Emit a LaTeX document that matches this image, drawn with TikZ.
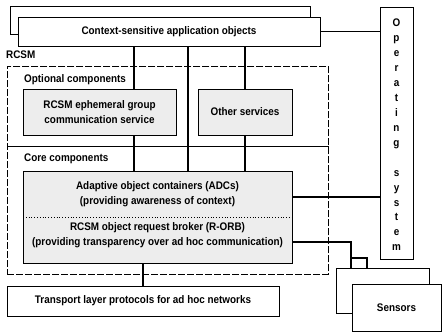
\documentclass[tikz,border=0pt]{standalone}
\usepackage{fontspec}
\setmainfont{Liberation Sans}[FakeStretch=0.9]
\begin{document}
\begin{tikzpicture}[x=1pt,y=-1pt,
  lbl/.style={font=\fontsize{11}{14.5}\selectfont\bfseries, inner sep=0pt, align=center},
  box/.style={draw, line width=0.9pt, fill=white, inner sep=0pt, outer sep=0pt, anchor=north west, lbl},
  shadebox/.style={box, fill=gray!14},
  region/.style={draw, line width=0.8pt, dash pattern=on 7pt off 2pt},
  wire/.style={line width=1.4pt}]
\useasboundingbox (0,0) rectangle (443,333);

% RCSM middleware region with its two compartments
\node[region, anchor=north west, minimum width=321pt, minimum height=208pt, inner sep=0pt] (rcsm) at (7,66) {};
\coordinate (ysep) at (0,146);
\draw[line width=0.8pt] (rcsm.west |- ysep) -- (rcsm.east |- ysep);
\node[lbl, anchor=west] (rcsmlbl) at (6,55) {RCSM};
\node[lbl, anchor=west] (optlbl) at (24,80) {Optional components};
\node[lbl, anchor=west] (corelbl) at (24,159) {Core components};

% application objects (stacked)
\node[box, minimum width=300pt, minimum height=28pt] (appB) at (10,6) {};
\node[box, minimum width=302pt, minimum height=29pt] (app) at (18,17) {Context-sensitive application objects};

% operating system column
\node[box, minimum width=33pt, minimum height=252pt] (os) at (380,7) {};
\node[font=\fontsize{11}{14.93}\selectfont\bfseries, inner sep=0pt, align=center] (ostext) at (396.5,135)
  {O\\p\\e\\r\\a\\t\\i\\n\\g\\[14.93pt]s\\y\\s\\t\\e\\m};

% optional services
\node[shadebox, minimum width=153pt, minimum height=46pt] (grp) at (23,89) {};
\node[lbl] (grptext) at (grp.center) {RCSM ephemeral group\\communication service};
\node[shadebox, minimum width=94pt, minimum height=46pt] (oth) at (198,89) {Other services};

% core components
\node[fill=gray!14, anchor=north west, minimum width=269pt, minimum height=46pt, inner sep=0pt, outer sep=0pt] (adc) at (23,171) {};
\node[fill=gray!14, anchor=north west, minimum width=269pt, minimum height=46pt, inner sep=0pt, outer sep=0pt] (orb) at (23,217) {};
\draw[line width=0.9pt] (adc.north west) rectangle (orb.south east);
\draw[line width=0.8pt, dotted] (adc.south west) -- (adc.south east);
\node[lbl] (adctext) at (adc.center) {Adaptive object containers (ADCs)\\(providing awareness of context)};
\node[lbl, yshift=5pt] (orbtext) at (orb.center) {RCSM object request broker (R-ORB)\\(providing transparency over ad hoc communication)};

% transport layer
\node[box, minimum width=272pt, minimum height=30pt] (tp) at (7,286) {Transport layer protocols for ad hoc networks};

% sensors (stacked)
\node[box, minimum width=93pt, minimum height=45pt] (sensB) at (336,268) {};
\node[box, minimum width=89pt, minimum height=47pt] (sens) at (352,284) {Sensors};

% connectors
\coordinate (xa) at (134,0);
\coordinate (xb) at (188,0);
\coordinate (xc) at (245,0);
\coordinate (xt) at (143,0);
\coordinate (yadc) at (0,197);
\coordinate (sa) at (351,242);
\coordinate (sb) at (367,258);
\draw[wire] (app.south -| xa) -- (grp.north -| xa);
\draw[wire] (app.south -| xb) -- (adc.north -| xb);
\draw[wire] (app.south -| xc) -- (oth.north -| xc);
\draw[wire] (grp.south -| xa) -- (adc.north -| xa);
\draw[wire] (oth.south -| xc) -- (adc.north -| xc);
\draw[wire] (app.east) -- (os.west |- app.east);
\draw[wire] (adc.east |- yadc) -- (os.west |- yadc);
\draw[wire] (orb.south -| xt) -- (tp.north -| xt);
\draw[wire] (orb.east |- sa) -| (sensB.north -| sa);
\draw[wire] (sa |- sb) -| (sensB.north -| sb);
\end{tikzpicture}
\end{document}
